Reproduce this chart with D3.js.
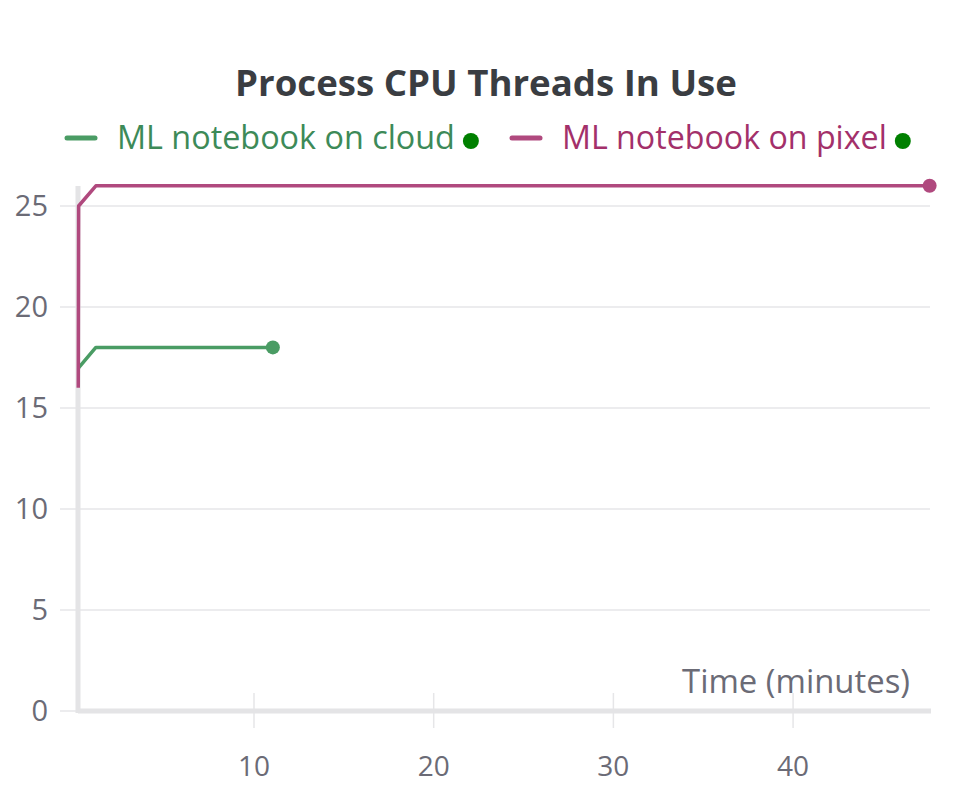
<!DOCTYPE html>
<html><head><meta charset="utf-8">
<script src="https://cdn.jsdelivr.net/npm/d3@7"></script>
<style>html,body{margin:0;padding:0;background:#fff;}svg{display:block;}</style>
</head><body>
<svg id="chart" width="971" height="785"></svg>
<script>
const title = "Process CPU Threads In Use";
const seriesNames = ["ML notebook on cloud", "ML notebook on pixel"];
const seriesColors = ["#4a9c64", "#b0497e"];
const legendTextColors = ["#3d8a58", "#a3306a"];
const cloudTime = [0.25, 1.2, 11.05];
const cloudValue = [17, 18, 18];
const pixelTime = [0.22, 0.24, 1.2, 47.6];
const pixelValue = [16, 25, 26, 26];
const xTicks = [10, 20, 30, 40];
const yTicks = [0, 5, 10, 15, 20, 25];
const xLabel = "Time (minutes)";

const svg = d3.select("#chart");
const font = "'Open Sans', sans-serif";
const x = d3.scaleLinear().domain([0.206, 47.62]).range([78, 930]);
const y = d3.scaleLinear().domain([0, 26]).range([711, 711 - 26 * 20.2]);

function fit(sel, w) {
  const cur = sel.node().getComputedTextLength();
  const fs = parseFloat(sel.attr("font-size"));
  sel.attr("font-size", fs * w / cur);
  return sel;
}

// gridlines
svg.append("g").selectAll("line").data(yTicks.filter(d => d > 0)).join("line")
  .attr("x1", 60).attr("x2", 930).attr("y1", d => y(d)).attr("y2", d => y(d))
  .attr("stroke", "#e6e6e8").attr("stroke-width", 1.5);
svg.append("line").attr("x1", 60).attr("x2", 78).attr("y1", y(0)).attr("y2", y(0))
  .attr("stroke", "#e6e6e8").attr("stroke-width", 1.5);
// x tick marks
svg.append("g").selectAll("line").data(xTicks).join("line")
  .attr("x1", d => x(d)).attr("x2", d => x(d)).attr("y1", 693).attr("y2", 728)
  .attr("stroke", "#e6e6e8").attr("stroke-width", 1.5);
// axes lines
svg.append("line").attr("x1", 78).attr("x2", 78).attr("y1", 186).attr("y2", 713)
  .attr("stroke", "#e4e4e6").attr("stroke-width", 5);
svg.append("line").attr("x1", 78).attr("x2", 931).attr("y1", 711).attr("y2", 711)
  .attr("stroke", "#e4e4e6").attr("stroke-width", 5);

// tick labels
svg.append("g").selectAll("text").data(yTicks).join("text")
  .attr("x", 48).attr("y", d => y(d)).attr("dy", "0.36em").attr("text-anchor", "end")
  .attr("font-family", font).attr("font-size", 29).attr("fill", "#6b6b76").text(d => d);
svg.append("g").selectAll("text").data(xTicks).join("text")
  .attr("x", d => x(d)).attr("y", 776).attr("text-anchor", "middle")
  .attr("font-family", font).attr("font-size", 28).attr("fill", "#6b6b76").text(d => d);
fit(svg.append("text").attr("x", 910).attr("y", 693).attr("text-anchor", "end")
  .attr("font-family", font).attr("font-size", 28).attr("fill", "#6b6b76").text(xLabel), 228);

// lines
const line = d3.line().x(d => x(d[0])).y(d => y(d[1]));
const series = [
  { t: cloudTime, v: cloudValue },
  { t: pixelTime, v: pixelValue }
];
series.forEach((s, i) => {
  const pts = s.t.map((t, j) => [t, s.v[j]]);
  svg.append("path").attr("d", line(pts)).attr("fill", "none")
    .attr("stroke", seriesColors[i]).attr("stroke-width", 3.5).attr("stroke-linejoin", "round");
  const last = pts[pts.length - 1];
  svg.append("circle").attr("cx", x(last[0])).attr("cy", y(last[1])).attr("r", 7)
    .attr("fill", seriesColors[i]);
});

// title
fit(svg.append("text").attr("x", 486).attr("y", 96).attr("text-anchor", "middle")
  .attr("font-family", font).attr("font-weight", "bold").attr("font-size", 34)
  .attr("fill", "#3a3d42").text(title), 502);

// legend
const legendX = [67, 512];
const legendW = [338, 325];
seriesNames.forEach((n, i) => {
  const g = svg.append("g");
  g.append("line").attr("x1", legendX[i]).attr("x2", legendX[i] + 28).attr("y1", 138).attr("y2", 138)
    .attr("stroke", seriesColors[i]).attr("stroke-width", 5).attr("stroke-linecap", "round");
  const t = fit(g.append("text").attr("x", legendX[i] + 50).attr("y", 149)
    .attr("font-family", font).attr("font-size", 30).attr("fill", legendTextColors[i]).text(n), legendW[i]);
  const w = t.node().getComputedTextLength();
  g.append("circle").attr("cx", legendX[i] + 50 + w + 16).attr("cy", 141).attr("r", 8).attr("fill", "#008000");
});
</script>
</body></html>
